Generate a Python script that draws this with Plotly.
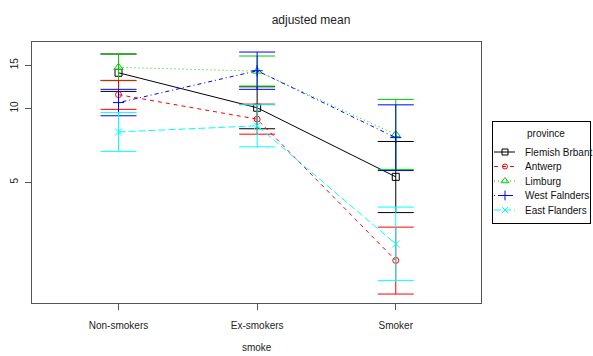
import plotly.graph_objects as go

# smoking categories on the x axis
smoke = ["Non-smokers", "Ex-smokers", "Smoker"]

# adjusted means per province (back-transformed), with lower / upper limits
flemish_mean = [13.97, 10.06, 5.26]
flemish_low = [11.73, 8.26, 3.76]
flemish_up = [16.66, 12.25, 7.33]

antwerp_mean = [11.38, 9.04, 2.40]
antwerp_low = [9.91, 7.85, 1.75]
antwerp_up = [13.01, 10.41, 3.28]

limburg_mean = [14.70, 14.19, 7.83]
limburg_low = [12.97, 12.33, 5.64]
limburg_up = [16.66, 16.35, 10.88]

west_mean = [10.56, 14.24, 7.60]
west_low = [9.33, 11.96, 5.58]
west_up = [11.96, 16.97, 10.34]

east_mean = [8.02, 8.49, 2.80]
east_low = [6.68, 6.97, 1.99]
east_up = [9.63, 10.34, 3.96]

province_names = ["Flemish Brbant", "Antwerp", "Limburg", "West Falnders", "East Flanders"]
y_ticks = [5, 10, 15]

series = [
    (province_names[0], flemish_mean, flemish_low, flemish_up, "#000000", "solid", "square-open", 7),
    (province_names[1], antwerp_mean, antwerp_low, antwerp_up, "#FF0000", "4px,4px", "circle-open", 6),
    (province_names[2], limburg_mean, limburg_low, limburg_up, "#00CD00", "1px,3px", "triangle-up-open", 8),
    (province_names[3], west_mean, west_low, west_up, "#0000FF", "1px,3px,4px,3px", "cross-thin-open", 8),
    (province_names[4], east_mean, east_low, east_up, "#00FFFF", "7px,3px", "x-thin-open", 7),
]

font = "Liberation Sans, Arial, sans-serif"
W, H = 593, 356
ML, MR, MT, MB = 32, 3, 42, 53
paper_w = W - ML - MR
paper_h = H - MT - MB

fig = go.Figure()
pos = [1, 2, 3]
# Limburg goes down before Antwerp so the red caps stay on top where they meet
draw_order = [0, 2, 1, 3, 4]
for i in draw_order:
    name, m, lo, up, col, dash, sym, msize = series[i]
    fig.add_trace(go.Scatter(
        x=pos, y=m, name=name, mode="lines+markers", showlegend=False,
        line=dict(color=col, width=1, dash=dash),
        marker=dict(symbol=sym, size=msize, color=col, line=dict(color=col, width=1)),
        error_y=dict(type="data", symmetric=False,
                     array=[u - v for u, v in zip(up, m)],
                     arrayminus=[v - l for v, l in zip(m, lo)],
                     color=col, thickness=1, width=18),
    ))

# key box on the right: its own small axis pair, units in pixels of the box
key_left, key_right, key_top, key_bottom = 493, 590, 122, 223
key_rows = [30, 44.5, 59, 73.5, 88]
annotations = [dict(text="province", x=32, y=11, xref="x2", yref="y2",
                    xanchor="left", yanchor="middle", showarrow=False,
                    font=dict(family=font, size=10, color="#111111"))]
for (name, m, lo, up, col, dash, sym, msize), ry in zip(series, key_rows):
    fig.add_trace(go.Scatter(
        x=[1, 22], y=[ry, ry], mode="lines", xaxis="x2", yaxis="y2",
        showlegend=False, hoverinfo="skip",
        line=dict(color=col, width=1, dash=dash)))
    fig.add_trace(go.Scatter(
        x=[12], y=[ry], mode="markers", xaxis="x2", yaxis="y2",
        showlegend=False, hoverinfo="skip",
        marker=dict(symbol=sym, size=msize - 1, color=col, line=dict(color=col, width=1))))
    annotations.append(dict(text=name, x=30, y=ry, xref="x2", yref="y2",
                            xanchor="left", yanchor="middle", showarrow=False,
                            font=dict(family=font, size=10, color="#111111")))

fig.update_layout(
    width=W, height=H,
    margin=dict(l=ML, r=MR, t=MT, b=MB),
    paper_bgcolor="white", plot_bgcolor="white",
    font=dict(family=font, size=10, color="#222222"),
    title=dict(text="adjusted mean", x=311 / W, xref="container", xanchor="center",
               y=1 - 20 / H, yref="container", yanchor="middle",
               font=dict(family=font, size=12, color="#222222")),
    xaxis=dict(domain=[0, (481.3 - ML) / paper_w],
               range=[0.376, 3.617], tickvals=pos, ticktext=smoke,
               showgrid=False, zeroline=False,
               showline=True, mirror=True, linecolor="#555555", linewidth=1,
               ticks="outside", ticklen=6, tickcolor="#555555",
               ticklabelstandoff=7,
               title=dict(text="smoke", standoff=13, font=dict(size=10))),
    yaxis=dict(type="log", range=[0.2066, 1.2707], tickvals=y_ticks,
               ticktext=[str(t) for t in y_ticks], tickangle=-90,
               showgrid=False, zeroline=False,
               showline=True, mirror=True, linecolor="#555555", linewidth=1,
               ticks="outside", ticklen=6, tickcolor="#555555",
               ticklabelstandoff=3),
    xaxis2=dict(domain=[(key_left - ML) / paper_w, (key_right - ML) / paper_w],
                anchor="y2", range=[0, key_right - key_left],
                showgrid=False, zeroline=False, showticklabels=False, ticks="",
                showline=True, mirror=True, linecolor="#000000", linewidth=1,
                fixedrange=True),
    yaxis2=dict(domain=[(H - MB - key_bottom) / paper_h, (H - MB - key_top) / paper_h],
                anchor="x2", range=[key_bottom - key_top, 0],
                showgrid=False, zeroline=False, showticklabels=False, ticks="",
                showline=True, mirror=True, linecolor="#000000", linewidth=1,
                fixedrange=True),
    annotations=annotations,
    showlegend=False,
)

fig.write_html("out.html")
